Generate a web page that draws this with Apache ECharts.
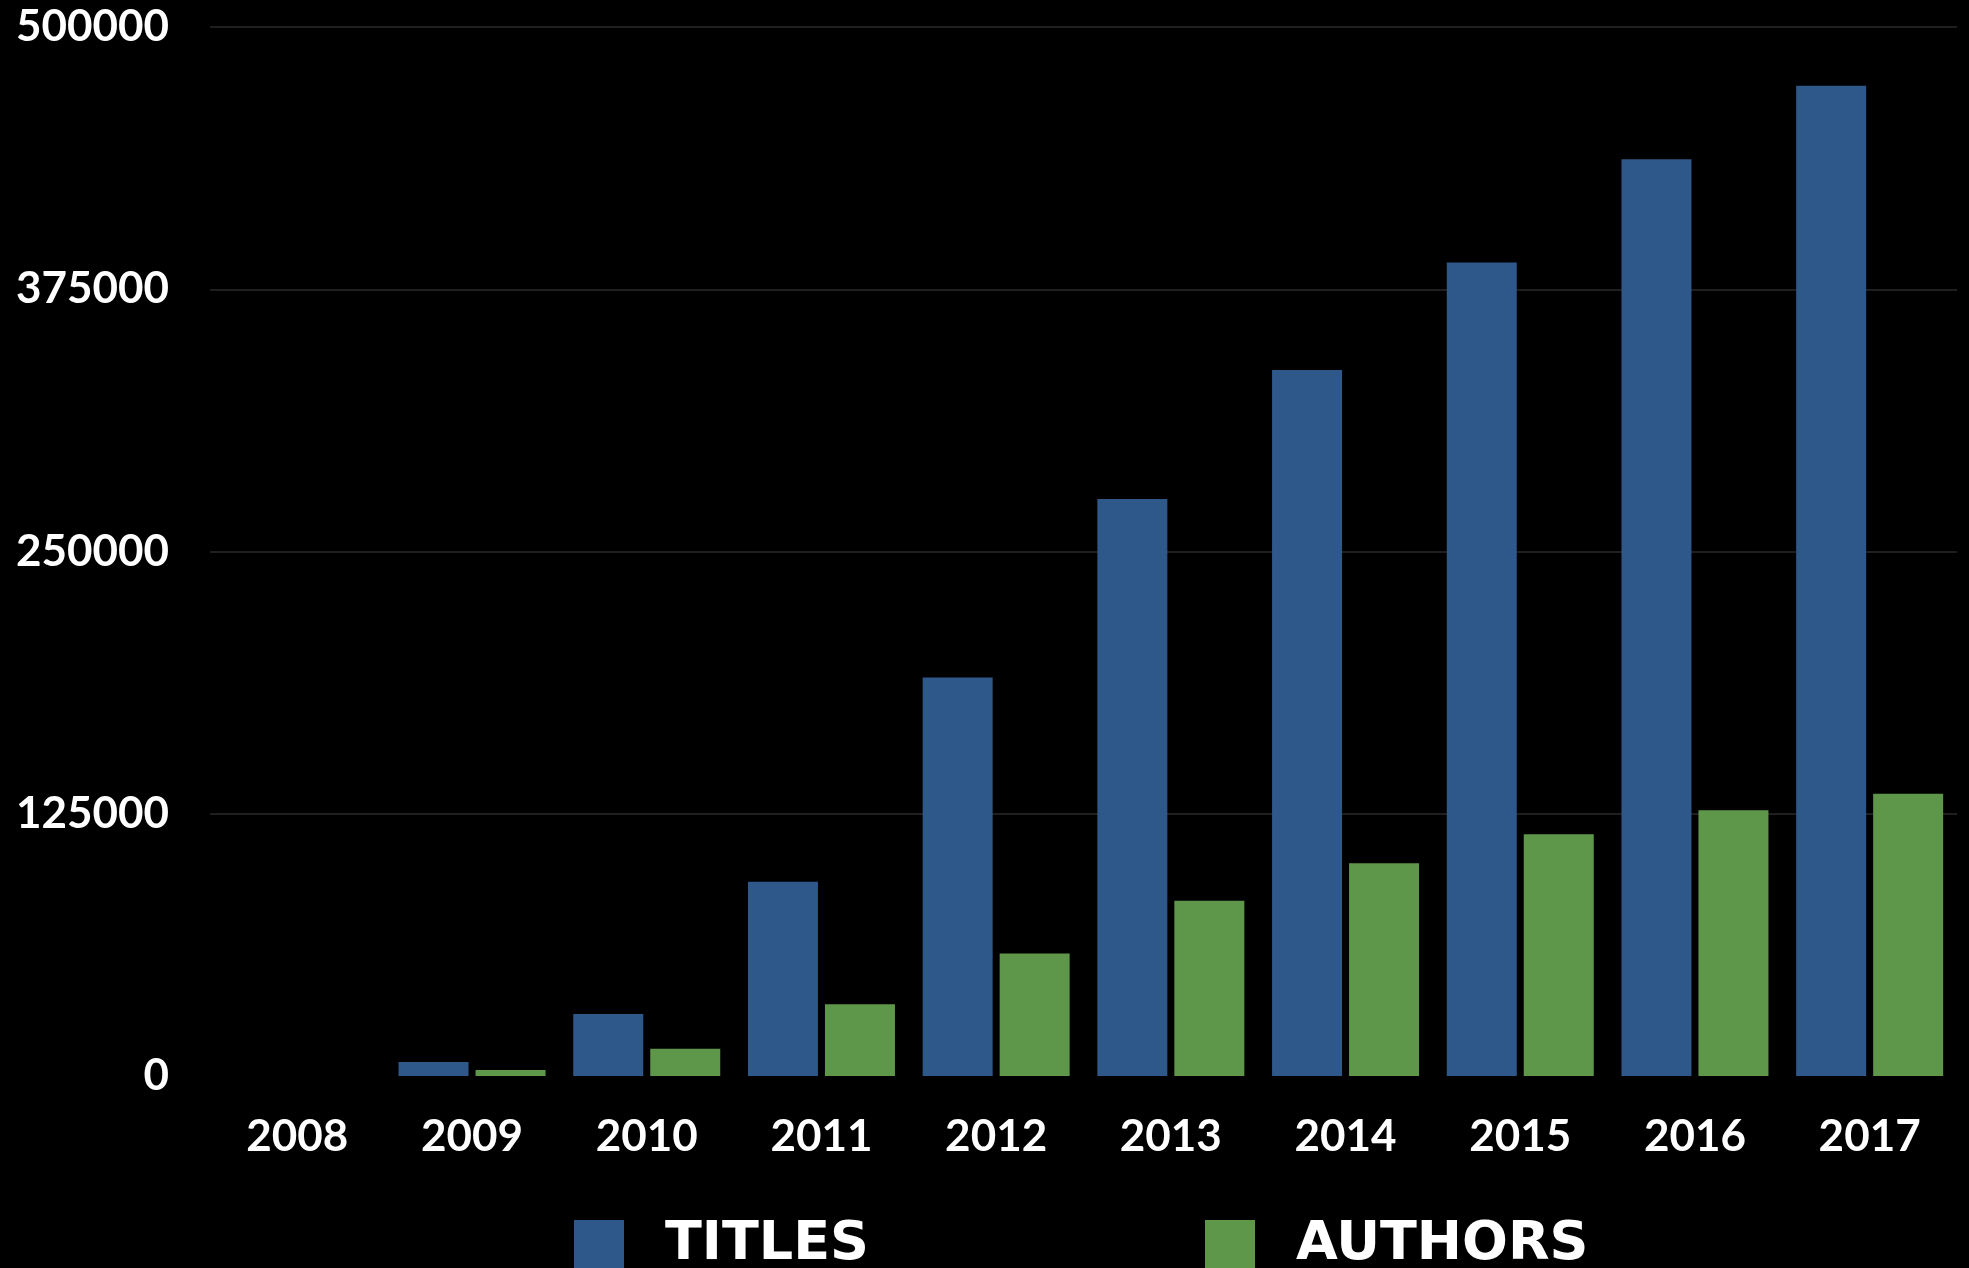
<!DOCTYPE html>
<html>
<head>
<meta charset="utf-8">
<title>Titles and authors per year</title>
<script src="https://cdn.jsdelivr.net/npm/echarts@6/dist/echarts.min.js"></script>
<style>
  html, body { margin: 0; padding: 0; background: #000; }
  #chart { width: 1969px; height: 1268px; }
</style>
</head>
<body>
<div id="chart"></div>
<script>
// Yearly totals
const years = ['2008', '2009', '2010', '2011', '2012', '2013', '2014', '2015', '2016', '2017'];
const titles = [0, 6700, 29500, 92600, 190000, 275000, 336500, 387800, 437000, 472000];
const authors = [0, 2900, 13000, 34200, 58400, 83500, 101400, 115200, 126700, 134500];
const yTicks = { min: 0, max: 500000, interval: 125000 };

const BLUE = '#2E5889';
const GREEN = '#5E974A';
const labelFont = 'Lato, "Open Sans", sans-serif';
const legendFont = '"DejaVu Sans", sans-serif';

const chart = echarts.init(document.getElementById('chart'));

function legendAt(name, left) {
  return {
    data: [name],
    left: left,
    top: 1218,
    orient: 'horizontal',
    icon: 'rect',
    itemWidth: 50,
    itemHeight: 50,
    selectedMode: false,
    padding: 0,
    textStyle: {
      color: '#fff',
      fontFamily: legendFont,
      fontWeight: 'bold',
      fontSize: 54,
      padding: [6, 0, 0, 36]
    }
  };
}

chart.setOption({
  backgroundColor: '#000',
  animation: false,
  grid: { left: 210, right: 12, top: 27, bottom: 192, containLabel: false },
  legend: [legendAt('TITLES', 574), legendAt('AUTHORS', 1205)],
  xAxis: {
    type: 'category',
    data: years,
    axisLine: { show: false },
    axisTick: { show: false },
    axisLabel: {
      color: '#fff',
      fontFamily: labelFont,
      fontWeight: 'bold',
      fontSize: 44,
      margin: 39
    }
  },
  yAxis: {
    type: 'value',
    min: yTicks.min,
    max: yTicks.max,
    interval: yTicks.interval,
    axisLine: { show: false },
    axisTick: { show: false },
    splitLine: {
      show: true,
      showMinLine: false,
      lineStyle: { color: '#2a2a2a', width: 1.5 }
    },
    axisLabel: {
      color: '#fff',
      fontFamily: labelFont,
      fontWeight: 'bold',
      fontSize: 44,
      margin: 41,
      formatter: function (v) { return String(v); }
    }
  },
  series: [
    {
      name: 'TITLES',
      type: 'bar',
      data: titles,
      barWidth: 70,
      barGap: '10%',
      itemStyle: { color: BLUE }
    },
    {
      name: 'AUTHORS',
      type: 'bar',
      data: authors,
      barWidth: 70,
      barGap: '10%',
      itemStyle: { color: GREEN }
    }
  ]
});
</script>
</body>
</html>
